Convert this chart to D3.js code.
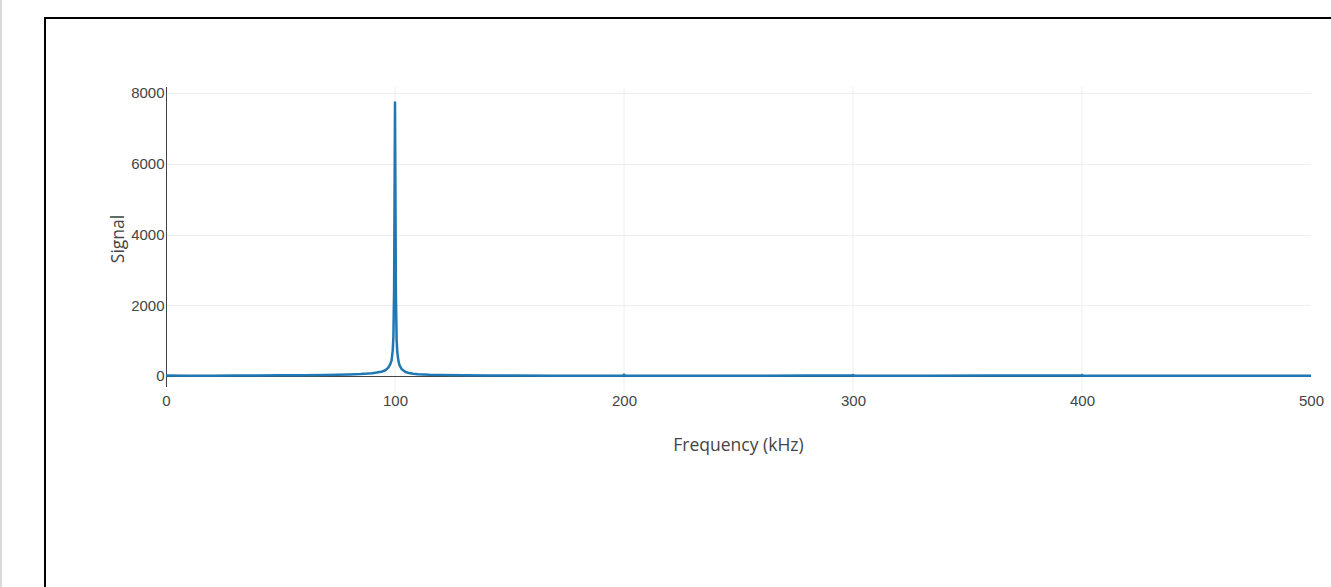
<!DOCTYPE html>
<html>
<head>
<meta charset="utf-8">
<script src="https://cdn.jsdelivr.net/npm/d3@7"></script>
<style>
  body { margin: 0; background: #fff; overflow: hidden; }
  svg { display: block; font-family: "Open Sans", sans-serif; }
  .axis text { fill: #444; font-size: 15px; }
  .axis .domain { display: none; }
  .grid line { stroke: #eee; stroke-width: 1; }
</style>
</head>
<body>
<svg id="chart" width="1331" height="587"></svg>
<script>
// spectrum (kHz, signal)
const freqKHz = [
  0, 10, 20, 30, 40, 50, 60, 70, 75, 80, 85, 88, 90, 92, 94, 95, 96, 97, 98,
  98.5, 99, 99.3, 99.6, 99.8, 100, 100.2, 100.4, 100.7, 101, 101.5, 102, 103,
  104, 105, 106, 108, 110, 115, 120, 130, 140, 150, 170, 190, 199.5, 200, 200.5,
  220, 250, 280, 299.5, 300, 300.5, 330, 360, 399.5, 400, 400.5, 430, 470, 500
];
const signal = [
  12, 8, 10, 12, 15, 18, 22, 28, 35, 42, 55, 68, 80, 98, 120, 140, 175, 230, 340,
  440, 720, 1100, 2400, 5000, 7730, 5000, 2300, 1050, 680, 420, 300, 190,
  140, 105, 85, 62, 48, 32, 25, 18, 14, 12, 10, 9, 9, 40, 9,
  8, 9, 12, 12, 30, 10, 9, 11, 14, 30, 8, 7, 8, 8
];
const xTicks = [0, 100, 200, 300, 400, 500];
const yTicks = [0, 2000, 4000, 6000, 8000];

const svg = d3.select('#chart');

// page chrome: grey rule at the far left and the black frame
svg.append('rect').attr('x', 0).attr('y', 0).attr('width', 2).attr('height', 587).attr('fill', '#d9d9d9');
svg.append('rect')
  .attr('x', 45).attr('y', 18).attr('width', 2000).attr('height', 2000)
  .attr('fill', 'none').attr('stroke', '#000').attr('stroke-width', 2);

const plot = { left: 166, right: 1311, top: 87, bottom: 391 };

const x = d3.scaleLinear().domain([0, 500]).range([plot.left, plot.right]);
const y = d3.scaleLinear().domain([-424, 8170]).range([plot.bottom, plot.top]);

// grid
svg.append('g').attr('class', 'grid')
  .selectAll('line.v').data(xTicks.slice(1, -1)).join('line')
  .attr('x1', d => x(d)).attr('x2', d => x(d))
  .attr('y1', plot.top).attr('y2', plot.bottom);
svg.append('g').attr('class', 'grid')
  .selectAll('line.h').data(yTicks.slice(1)).join('line')
  .attr('x1', plot.left).attr('x2', plot.right)
  .attr('y1', d => Math.round(y(d)) + 0.5).attr('y2', d => Math.round(y(d)) + 0.5);

// zero line
svg.append('line')
  .attr('x1', plot.left).attr('x2', plot.right)
  .attr('y1', Math.round(y(0)) + 0.5).attr('y2', Math.round(y(0)) + 0.5)
  .attr('stroke', '#444').attr('stroke-width', 1);

// axes
const axisX = d3.axisBottom(x).tickValues(xTicks).tickSize(0).tickPadding(0);
svg.append('g').attr('class', 'axis axis-x')
  .attr('transform', 'translate(0,395)')
  .call(axisX);

const axisY = d3.axisLeft(y).tickValues(yTicks).tickSize(0).tickPadding(1.5).tickFormat(d => d);
svg.append('g').attr('class', 'axis axis-y')
  .attr('transform', `translate(${plot.left},0)`)
  .call(axisY);

svg.append('line')
  .attr('x1', plot.left + 0.5).attr('x2', plot.left + 0.5)
  .attr('y1', plot.top).attr('y2', plot.bottom - 4)
  .attr('stroke', '#444').attr('stroke-width', 1);

// titles
svg.append('text')
  .attr('x', (plot.left + plot.right) / 2).attr('y', 451)
  .attr('text-anchor', 'middle').attr('fill', '#444').attr('font-size', 17.5)
  .text('Frequency (kHz)');
svg.append('text')
  .attr('transform', 'translate(124,239) rotate(-90)')
  .attr('text-anchor', 'middle').attr('fill', '#444').attr('font-size', 17.5)
  .text('Signal');

// trace
const pts = freqKHz.map((f, i) => [f, signal[i]]);
const line = d3.line().x(d => x(d[0])).y(d => y(d[1]));
svg.append('path')
  .datum(pts)
  .attr('d', line)
  .attr('fill', 'none')
  .attr('stroke', '#1f77b4')
  .attr('stroke-width', 2.5)
  .attr('stroke-linejoin', 'round');
</script>
</body>
</html>
